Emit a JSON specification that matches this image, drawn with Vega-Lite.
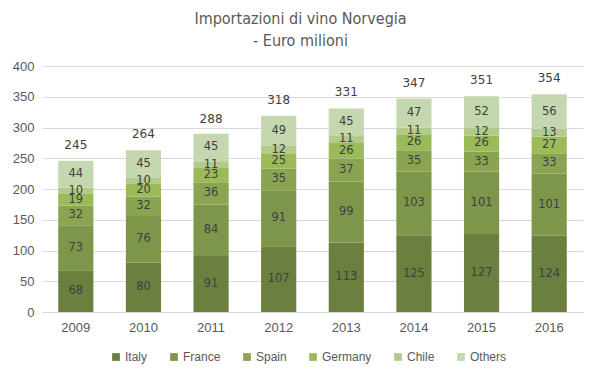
{
  "$schema": "https://vega.github.io/schema/vega-lite/v6.json",
  "width": 541,
  "height": 246,
  "autosize": "none",
  "padding": {"left": 42, "top": 66, "right": 16, "bottom": 66},
  "background": "white",
  "title": {
    "text": ["Importazioni di vino Norvegia", "- Euro milioni"],
    "font": "DejaVu Sans Condensed",
    "fontSize": 16,
    "fontWeight": "normal",
    "color": "#595959",
    "anchor": "middle",
    "frame": "group",
    "dx": -12,
    "offset": 11,
    "lineHeight": 22
  },
  "config": {
    "view": {"stroke": null},
    "axis": {"labelFont": "Liberation Sans", "labelFontSize": 13, "labelColor": "#595959", "titleFont": "Liberation Sans"},
    "legend": {"labelFont": "Liberation Sans", "labelFontSize": 12, "labelColor": "#595959"}
  },
  "datasets": {
    "parts": [
      {"year": "2009", "country": "Italy", "k": 1, "value": 68},
      {"year": "2009", "country": "France", "k": 2, "value": 73},
      {"year": "2009", "country": "Spain", "k": 3, "value": 32},
      {"year": "2009", "country": "Germany", "k": 4, "value": 19},
      {"year": "2009", "country": "Chile", "k": 5, "value": 10},
      {"year": "2009", "country": "Others", "k": 6, "value": 44},
      {"year": "2010", "country": "Italy", "k": 1, "value": 80},
      {"year": "2010", "country": "France", "k": 2, "value": 76},
      {"year": "2010", "country": "Spain", "k": 3, "value": 32},
      {"year": "2010", "country": "Germany", "k": 4, "value": 20},
      {"year": "2010", "country": "Chile", "k": 5, "value": 10},
      {"year": "2010", "country": "Others", "k": 6, "value": 45},
      {"year": "2011", "country": "Italy", "k": 1, "value": 91},
      {"year": "2011", "country": "France", "k": 2, "value": 84},
      {"year": "2011", "country": "Spain", "k": 3, "value": 36},
      {"year": "2011", "country": "Germany", "k": 4, "value": 23},
      {"year": "2011", "country": "Chile", "k": 5, "value": 11},
      {"year": "2011", "country": "Others", "k": 6, "value": 45},
      {"year": "2012", "country": "Italy", "k": 1, "value": 107},
      {"year": "2012", "country": "France", "k": 2, "value": 91},
      {"year": "2012", "country": "Spain", "k": 3, "value": 35},
      {"year": "2012", "country": "Germany", "k": 4, "value": 25},
      {"year": "2012", "country": "Chile", "k": 5, "value": 12},
      {"year": "2012", "country": "Others", "k": 6, "value": 49},
      {"year": "2013", "country": "Italy", "k": 1, "value": 113},
      {"year": "2013", "country": "France", "k": 2, "value": 99},
      {"year": "2013", "country": "Spain", "k": 3, "value": 37},
      {"year": "2013", "country": "Germany", "k": 4, "value": 26},
      {"year": "2013", "country": "Chile", "k": 5, "value": 11},
      {"year": "2013", "country": "Others", "k": 6, "value": 45},
      {"year": "2014", "country": "Italy", "k": 1, "value": 125},
      {"year": "2014", "country": "France", "k": 2, "value": 103},
      {"year": "2014", "country": "Spain", "k": 3, "value": 35},
      {"year": "2014", "country": "Germany", "k": 4, "value": 26},
      {"year": "2014", "country": "Chile", "k": 5, "value": 11},
      {"year": "2014", "country": "Others", "k": 6, "value": 47},
      {"year": "2015", "country": "Italy", "k": 1, "value": 127},
      {"year": "2015", "country": "France", "k": 2, "value": 101},
      {"year": "2015", "country": "Spain", "k": 3, "value": 33},
      {"year": "2015", "country": "Germany", "k": 4, "value": 26},
      {"year": "2015", "country": "Chile", "k": 5, "value": 12},
      {"year": "2015", "country": "Others", "k": 6, "value": 52},
      {"year": "2016", "country": "Italy", "k": 1, "value": 124},
      {"year": "2016", "country": "France", "k": 2, "value": 101},
      {"year": "2016", "country": "Spain", "k": 3, "value": 33},
      {"year": "2016", "country": "Germany", "k": 4, "value": 27},
      {"year": "2016", "country": "Chile", "k": 5, "value": 13},
      {"year": "2016", "country": "Others", "k": 6, "value": 56}
    ],
    "totals": [
      {"year": "2009", "total": 245},
      {"year": "2010", "total": 264},
      {"year": "2011", "total": 288},
      {"year": "2012", "total": 318},
      {"year": "2013", "total": 331},
      {"year": "2014", "total": 347},
      {"year": "2015", "total": 351},
      {"year": "2016", "total": 354}
    ]
  },
  "layer": [
    {
      "data": {"name": "parts"},
      "transform": [
        {"stack": "value", "groupby": ["year"], "sort": [{"field": "k", "order": "ascending"}], "as": ["y0", "y1"]},
        {"calculate": "(datum.y0 + datum.y1) / 2", "as": "mid"}
      ],
      "layer": [
        {
          "mark": {"type": "bar"},
          "encoding": {
            "x": {"field": "year", "type": "ordinal", "title": null,
                  "scale": {"paddingInner": 0.48, "paddingOuter": 0.24},
                  "axis": {"labelAngle": 0, "ticks": false, "domainColor": "#d9d9d9", "labelPadding": 9}},
            "y": {"field": "y0", "type": "quantitative", "title": null,
                  "scale": {"domain": [0, 400]},
                  "axis": {"values": [0, 50, 100, 150, 200, 250, 300, 350, 400], "labelOverlap": false, "ticks": false, "domain": false, "gridColor": "#d9d9d9", "labelPadding": 8}},
            "y2": {"field": "y1"},
            "color": {"field": "country", "type": "nominal", "title": null,
                      "scale": {"domain": ["Italy", "France", "Spain", "Germany", "Chile", "Others"],
                                "range": ["#6b7f3f", "#7e964a", "#8ba452", "#9bbb59", "#b3ca8b", "#c5d7ae"]},
                      "legend": {"orient": "none", "legendX": 68, "legendY": 285, "direction": "horizontal", "symbolType": "square", "symbolSize": 60, "symbolStrokeWidth": 0, "columnPadding": 20, "labelOffset": 3}}
          }
        },
        {
          "mark": {"type": "text", "font": "DejaVu Sans", "fontSize": 11.5, "color": "#404040", "baseline": "middle"},
          "encoding": {
            "x": {"field": "year", "type": "ordinal", "title": null,
                  "axis": {"labelAngle": 0, "ticks": false, "domainColor": "#d9d9d9", "labelPadding": 9}},
            "y": {"field": "mid", "type": "quantitative", "title": null,
                  "axis": {"values": [0, 50, 100, 150, 200, 250, 300, 350, 400], "labelOverlap": false, "ticks": false, "domain": false, "gridColor": "#d9d9d9", "labelPadding": 8}},
            "text": {"field": "value", "type": "quantitative"}
          }
        }
      ]
    },
    {
      "data": {"name": "totals"},
      "mark": {"type": "text", "font": "DejaVu Sans", "fontSize": 12, "color": "#404040", "baseline": "middle", "dy": -16},
      "encoding": {
        "x": {"field": "year", "type": "ordinal", "title": null,
              "axis": {"labelAngle": 0, "ticks": false, "domainColor": "#d9d9d9", "labelPadding": 9}},
        "y": {"field": "total", "type": "quantitative", "title": null,
              "axis": {"values": [0, 50, 100, 150, 200, 250, 300, 350, 400], "labelOverlap": false, "ticks": false, "domain": false, "gridColor": "#d9d9d9", "labelPadding": 8}},
        "text": {"field": "total", "type": "quantitative"}
      }
    }
  ]
}
